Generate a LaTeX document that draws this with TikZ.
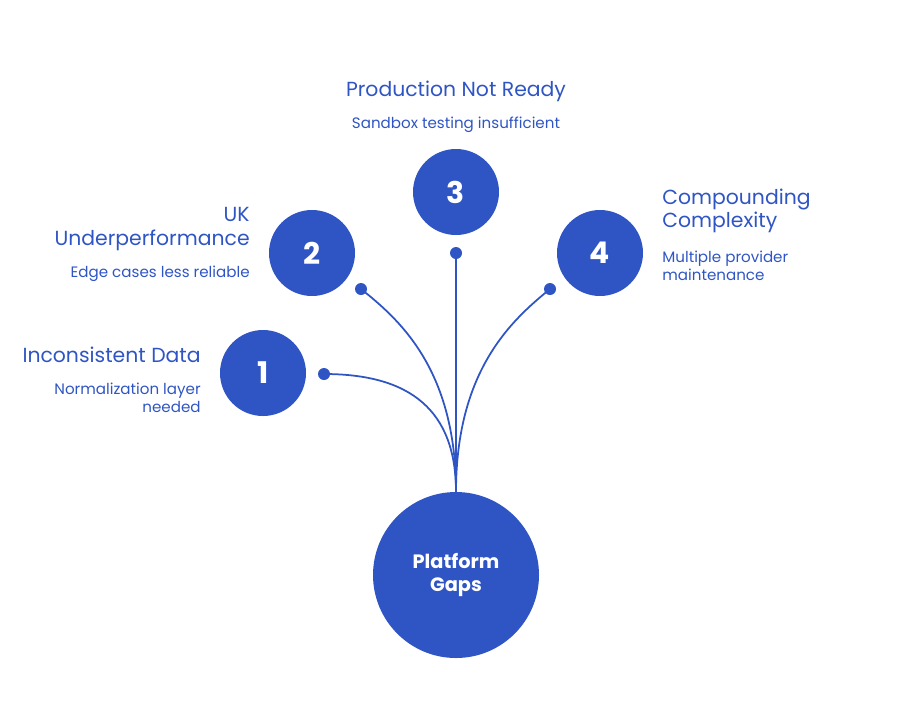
\documentclass[tikz,border=0pt]{standalone}
\usepackage{fontspec}
\setmainfont{Poppins}
\definecolor{gapBlue}{HTML}{2F55C4}
\begin{document}
\begin{tikzpicture}[x=0.02cm, y=-0.02cm,
    bigStyle/.style={circle, fill=gapBlue, minimum size=166*0.02cm, inner sep=0pt, text=white, font=\fontsize{11}{13}\selectfont\bfseries, align=center},
    numStyle/.style={circle, fill=gapBlue, minimum size=86*0.02cm, inner sep=0pt, text=white, font=\fontsize{17}{19}\selectfont\bfseries},
    dotStyle/.style={circle, fill=gapBlue, minimum size=12*0.02cm, inner sep=0pt},
    titleStyle/.style={text=gapBlue, font=\fontsize{11.6}{13.5}\selectfont, inner sep=0pt},
    subStyle/.style={text=gapBlue, font=\fontsize{8.6}{10}\selectfont, inner sep=0pt},
    linkStyle/.style={draw=gapBlue, line width=1pt}]
    \useasboundingbox (0,0) rectangle (902,708);

    \node[bigStyle](gaps) at (456,575) {Platform\\Gaps};
    \coordinate (top) at (456,492);

    \node[numStyle](n1) at (263,373) {1};
    \node[numStyle](n2) at (312,253) {2};
    \node[numStyle](n3) at (456,192) {3};
    \node[numStyle](n4) at (600,253) {4};

    \node[dotStyle](d1) at (324,374) {};
    \node[dotStyle](d2) at (361,289) {};
    \node[dotStyle](d3) at (456,253) {};
    \node[dotStyle](d4) at (550,289) {};

    \draw[linkStyle] (top) .. controls (456,410) and (410,374) .. (d1.center);
    \draw[linkStyle] (top) .. controls (456,370) and (400,320) .. (d2.center);
    \draw[linkStyle] (top) -- (d3.center);
    \draw[linkStyle] (top) .. controls (456,370) and (512,320) .. (d4.center);

    \node[titleStyle, anchor=center](t3) at (456,91) {Production Not Ready};
    \node[subStyle, anchor=center](s3) at (456,125) {Sandbox testing insufficient};
    \node[titleStyle, anchor=east, align=right](t2) at (250,229) {UK\\Underperformance};
    \node[subStyle, anchor=east](s2) at (250,274) {Edge cases less reliable};
    \node[titleStyle, anchor=east](t1) at (201,355) {Inconsistent Data};
    \node[subStyle, anchor=east, align=right](s1) at (201,398) {Normalization layer\\needed};
    \node[titleStyle, anchor=west, align=left](t4) at (662,211) {Compounding\\Complexity};
    \node[subStyle, anchor=west, align=left](s4) at (662,266) {Multiple provider\\maintenance};
\end{tikzpicture}
\end{document}
